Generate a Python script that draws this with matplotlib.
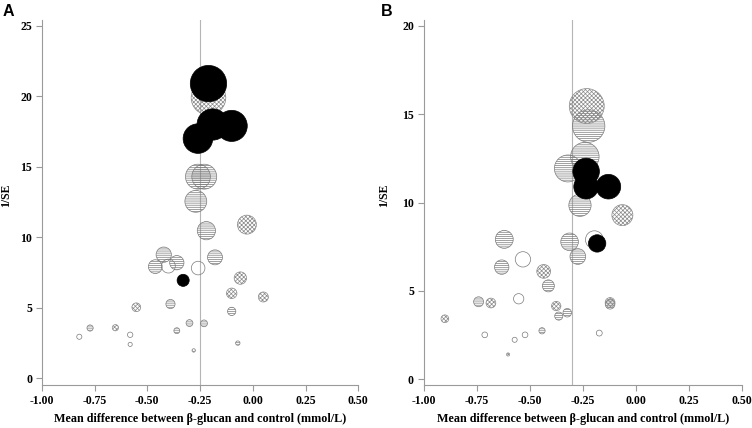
import matplotlib
matplotlib.use("Agg")
import matplotlib.pyplot as plt

plt.rcParams['hatch.linewidth'] = 0.5

# ---------------- Panel A data ----------------
a_solid_x = [-0.21, -0.19, -0.10, -0.26, -0.33]
a_solid_y = [20.9, 18.0, 17.9, 17.0, 6.95]
a_cross_x = [-0.21, -0.028, -0.059, -0.10, 0.05, -0.552, -0.651, -0.28]
a_cross_y = [19.9, 10.9, 7.11, 6.03, 5.77, 5.04, 3.59, 1.98]
a_hline_x = [-0.26, -0.23, -0.27, -0.22, -0.422, -0.462, -0.36, -0.179,
             -0.39, -0.10, -0.30, -0.231, -0.36, -0.771, -0.071]
a_hline_y = [14.3, 14.3, 12.55, 10.47, 8.77, 7.92, 8.2, 8.58,
             5.27, 4.75, 3.92, 3.9, 3.38, 3.57, 2.5]
a_open_x = [-0.40, -0.259, -0.822, -0.581, -0.581]
a_open_y = [7.96, 7.82, 2.95, 3.09, 2.41]

# ---------------- Panel B data ----------------
b_solid_x = [-0.234, -0.234, -0.129, -0.182]
b_solid_y = [11.76, 10.9, 10.9, 7.69]
b_cross_x = [-0.231, -0.063, -0.434, -0.683, -0.375, -0.121, -0.90, -0.602]
b_cross_y = [15.46, 9.29, 6.11, 4.32, 4.15, 4.35, 3.43, 1.41]
b_hline_x = [-0.222, -0.24, -0.32, -0.263, -0.62, -0.312, -0.273, -0.632,
             -0.412, -0.741, -0.363, -0.323, -0.121, -0.442]
b_hline_y = [14.33, 12.6, 11.93, 9.85, 7.92, 7.78, 6.95, 6.35,
             5.29, 4.39, 3.58, 3.77, 4.25, 2.75]
b_open_x = [-0.195, -0.532, -0.552, -0.712, -0.522, -0.571, -0.172]
b_open_y = [7.9, 6.79, 4.56, 2.52, 2.52, 2.24, 2.62]

x_ticks = [-1.00, -0.75, -0.50, -0.25, 0.00, 0.25, 0.50]
x_ticklabels = ["-1.00", "-0.75", "-0.50", "-0.25", "0.00", "0.25", "0.50"]
a_yticks = [0, 5, 10, 15, 20, 25]
b_yticks = [0, 5, 10, 15, 20]
a_ref = -0.25
b_ref = -0.30

xlabel = "Mean difference between \u03b2-glucan and control (mmol/L)"
ylabel = "1/SE"

fig = plt.figure(figsize=(7.52, 4.28), dpi=100)
axA = fig.add_axes([0.0555, 0.0995, 0.421, 0.8535])
axB = fig.add_axes([0.5634, 0.0995, 0.423, 0.8535])

serif = "Liberation Serif"
gray = "#9a9a9a"
hatch_edge = "#7a7a7a"


def sizes(yvals, k):
    # bubble radius (px) proportional to 1/SE -> area in pt^2
    return [(2 * k * v * 0.72) ** 2 for v in yvals]


def panel(ax, solid, cross, hline, opn, ref, yticks, ylim, k, ylab_x):
    ax.axvline(ref, color="#b5b5b5", lw=0.8, zorder=1)
    ax.scatter(opn[0], opn[1], s=sizes(opn[1], k), facecolors="none",
               edgecolors=hatch_edge, linewidths=0.5, zorder=2)
    ax.scatter(hline[0], hline[1], s=sizes(hline[1], k), facecolors="none",
               edgecolors=hatch_edge, linewidths=0.5, hatch="--------", zorder=2)
    ax.scatter(cross[0], cross[1], s=sizes(cross[1], k), facecolors="none",
               edgecolors="#8a8a8a", linewidths=0.5, hatch="xxxxxxxx", zorder=3)
    ax.scatter(solid[0], solid[1], s=sizes(solid[1], k), facecolors="black",
               edgecolors="black", linewidths=0.5, zorder=4)
    ax.set_xlim(-1.0, 0.5)
    ax.set_ylim(*ylim)
    ax.set_xticks(x_ticks)
    ax.set_xticklabels(x_ticklabels)
    ax.set_yticks(yticks)
    for sp in ["top", "right"]:
        ax.spines[sp].set_visible(False)
    for sp in ["left", "bottom"]:
        ax.spines[sp].set_color(gray)
        ax.spines[sp].set_linewidth(0.8)
    ax.tick_params(axis="both", direction="out", length=4, width=0.8,
                   color=gray, pad=3)
    for lab in ax.get_xticklabels() + ax.get_yticklabels():
        lab.set_fontfamily(serif)
        lab.set_fontweight("bold")
        lab.set_fontsize(8.5)
    ax.set_xlabel(xlabel, fontfamily=serif, fontweight="bold", fontsize=8.7, labelpad=4)
    ax.set_ylabel(ylabel, fontfamily=serif, fontweight="bold", fontsize=8.5)
    ax.yaxis.set_label_coords(ylab_x, 0.52)


panel(axA, (a_solid_x, a_solid_y), (a_cross_x, a_cross_y), (a_hline_x, a_hline_y),
      (a_open_x, a_open_y), a_ref, a_yticks, (-0.5, 25.4), 0.87, -0.094)
panel(axB, (b_solid_x, b_solid_y), (b_cross_x, b_cross_y), (b_hline_x, b_hline_y),
      (b_open_x, b_open_y), b_ref, b_yticks, (-0.34, 20.32), 1.13, -0.107)

fig.text(0.003, 0.99, "A", fontfamily="Liberation Sans", fontweight="bold",
         fontsize=11.5, va="top", ha="left")
fig.text(0.507, 0.99, "B", fontfamily="Liberation Sans", fontweight="bold",
         fontsize=11.5, va="top", ha="left")

fig.savefig("out.png", dpi=100)
